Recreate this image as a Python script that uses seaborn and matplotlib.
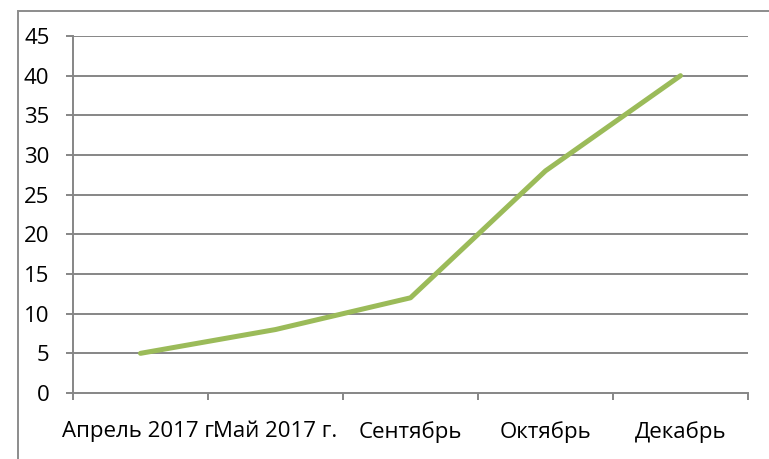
import pandas as pd
import seaborn as sns
import matplotlib.pyplot as plt
from matplotlib.patches import Rectangle

# chart data
months = ["Апрель 2017 г.", "Май 2017 г.", "Сентябрь", "Октябрь", "Декабрь"]
values = [5, 8, 12, 28, 40]
y_ticks = [0, 5, 10, 15, 20, 25, 30, 35, 40, 45]

df = pd.DataFrame({"month": months, "value": values})

sns.set_style("white")
plt.rcParams['font.family'] = ['Open Sans', 'DejaVu Sans']
plt.rcParams['text.color'] = 'black'
plt.rcParams['xtick.labelcolor'] = 'black'
plt.rcParams['ytick.labelcolor'] = 'black'

fig = plt.figure(figsize=(7.69, 4.59), dpi=100)
ax = fig.add_axes([73 / 769, 1 - 393 / 459, (748 - 73) / 769, (393 - 36) / 459])

grid_col = "#868686"

# horizontal gridlines
for t in y_ticks[1:]:
    ax.axhline(t, color=grid_col, lw=1.4, zorder=1)

sns.lineplot(data=df, x="month", y="value", sort=False, color="#9BBB59",
             lw=3.6, ax=ax, zorder=3, solid_capstyle="round")

ax.set_xlim(-0.5, len(months) - 0.5)
ax.set_ylim(0, 45)
ax.set_yticks(y_ticks)
ax.set_xticks(range(len(months)))
ax.set_xticklabels(months)
ax.set_xticks([i - 0.5 for i in range(len(months) + 1)], minor=True)
ax.set_xlabel("")
ax.set_ylabel("")

for s in ["top", "right"]:
    ax.spines[s].set_visible(False)
for s in ["left", "bottom"]:
    ax.spines[s].set_color(grid_col)
    ax.spines[s].set_linewidth(1.4)

ax.tick_params(axis="y", direction="out", length=5, width=1.4, color=grid_col,
               pad=12, labelsize=16, left=True)
ax.tick_params(axis="x", which="major", length=0, pad=20, labelsize=16)
ax.tick_params(axis="x", which="minor", direction="out", length=5, width=1.4,
               color=grid_col, bottom=True)

# outer chart border (runs off the image on the right and bottom)
fig.patches.append(Rectangle((18 / 769, -0.2), 1.2, 1 - 11 / 459 + 0.2,
                             transform=fig.transFigure, fill=False,
                             edgecolor="#8c8c8c", lw=1.4))

plt.savefig("out.png", dpi=100)
plt.close()
